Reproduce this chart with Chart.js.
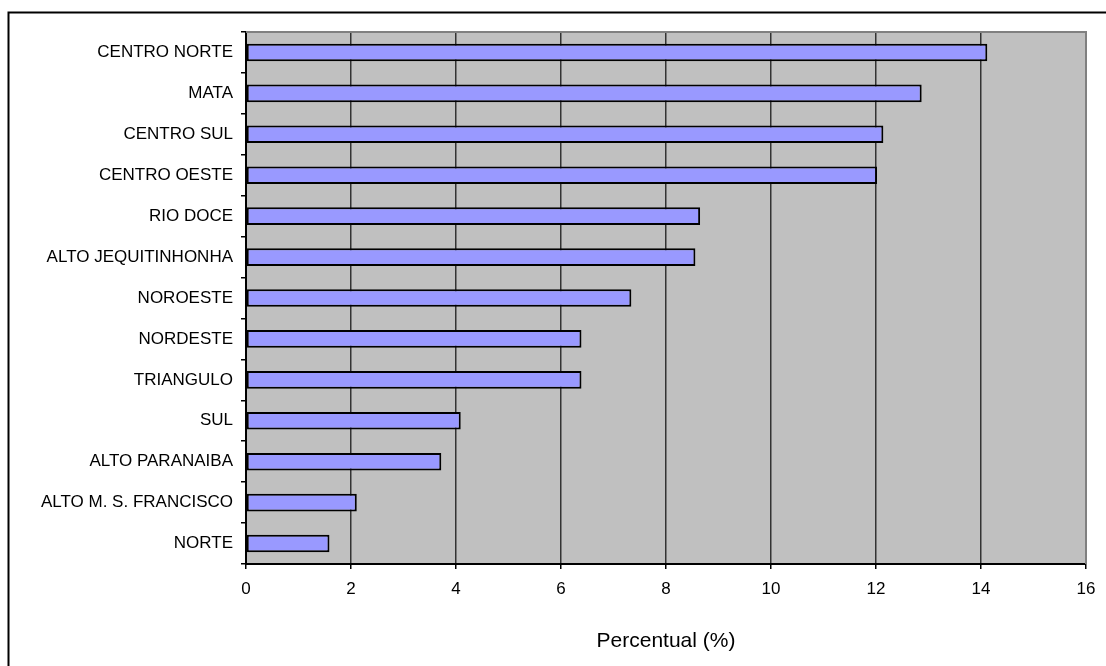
<!DOCTYPE html>
<html>
<head>
<meta charset="utf-8">
<script src="https://cdn.jsdelivr.net/npm/chart.js@4"></script>
<style>
  html, body { margin: 0; padding: 0; background: #fff; }
  #wrap { width: 1106px; height: 666px; position: relative; }
</style>
</head>
<body>
<div id="wrap"><canvas id="c" width="1106" height="666"></canvas></div>
<script>
const categories = ['CENTRO NORTE', 'MATA', 'CENTRO SUL', 'CENTRO OESTE', 'RIO DOCE', 'ALTO JEQUITINHONHA', 'NOROESTE', 'NORDESTE', 'TRIANGULO', 'SUL', 'ALTO PARANAIBA', 'ALTO M. S. FRANCISCO', 'NORTE'];
const percentValues = [14.12, 12.87, 12.14, 12.02, 8.65, 8.56, 7.34, 6.39, 6.39, 4.09, 3.72, 2.11, 1.59];
const xTicks = [0, 2, 4, 6, 8, 10, 12, 14, 16];
const xTitle = 'Percentual (%)';

const FONT = '"Liberation Sans", Arial, sans-serif';

const framePlugin = {
  id: 'frame',
  beforeDraw(chart) {
    const { ctx, chartArea: a } = chart;
    ctx.save();
    ctx.fillStyle = '#ffffff';
    ctx.fillRect(0, 0, chart.width, chart.height);
    ctx.fillStyle = '#C0C0C0';
    ctx.fillRect(a.left, a.top, a.right - a.left, a.bottom - a.top);
    ctx.restore();
  },
  afterDatasetsDraw(chart) {
    const { ctx, chartArea: a } = chart;
    ctx.save();
    ctx.strokeStyle = '#808080';
    ctx.lineWidth = 2;
    ctx.beginPath();
    ctx.moveTo(a.left, a.top);
    ctx.lineTo(a.right, a.top);
    ctx.lineTo(a.right, a.bottom);
    ctx.stroke();
    ctx.restore();
  },
  afterDraw(chart) {
    const { ctx } = chart;
    ctx.save();
    ctx.strokeStyle = '#000000';
    ctx.lineWidth = 2;
    ctx.strokeRect(8.5, 12.5, 1300, 1300);
    ctx.restore();
  }
};

new Chart(document.getElementById('c'), {
  type: 'bar',
  data: {
    labels: categories,
    datasets: [{
      data: percentValues,
      backgroundColor: '#9999FF',
      borderColor: '#000000',
      borderWidth: 2,
      borderSkipped: false,
      barPercentage: 0.43,
      categoryPercentage: 1.0
    }]
  },
  options: {
    indexAxis: 'y',
    responsive: false,
    animation: false,
    devicePixelRatio: 1,
    layout: { padding: { top: 32, right: 20, left: 0, bottom: 0 } },
    plugins: {
      legend: { display: false },
      tooltip: { enabled: false },
      title: { display: false }
    },
    scales: {
      x: {
        type: 'linear',
        min: 0,
        max: 16,
        afterFit(scale) { scale.height = 102; },
        afterBuildTicks(scale) { scale.ticks = xTicks.map(v => ({ value: v })); },
        ticks: {
          color: '#000000',
          padding: 10,
          font: { family: FONT, size: 17 },
          callback: (v) => String(v)
        },
        grid: {
          color: (ctx) => (ctx.tick && ctx.tick.value === 16) ? '#808080' : '#333333',
          lineWidth: 1.5,
          drawTicks: true,
          tickLength: 5,
          tickColor: '#000000',
          tickWidth: 1.5
        },
        border: { display: true, color: '#000000', width: 2 },
        title: {
          display: true,
          text: xTitle,
          color: '#000000',
          font: { family: FONT, size: 21 },
          padding: { top: 0, bottom: 12 }
        }
      },
      y: {
        afterFit(scale) { scale.width = 246; },
        ticks: {
          color: '#000000',
          padding: 8,
          font: { family: FONT, size: 17 }
        },
        grid: {
          offset: true,
          drawOnChartArea: false,
          drawTicks: true,
          tickLength: 5,
          color: '#000000',
          lineWidth: 1.5
        },
        border: { display: true, color: '#000000', width: 2 }
      }
    }
  },
  plugins: [framePlugin]
});
</script>
</body>
</html>
